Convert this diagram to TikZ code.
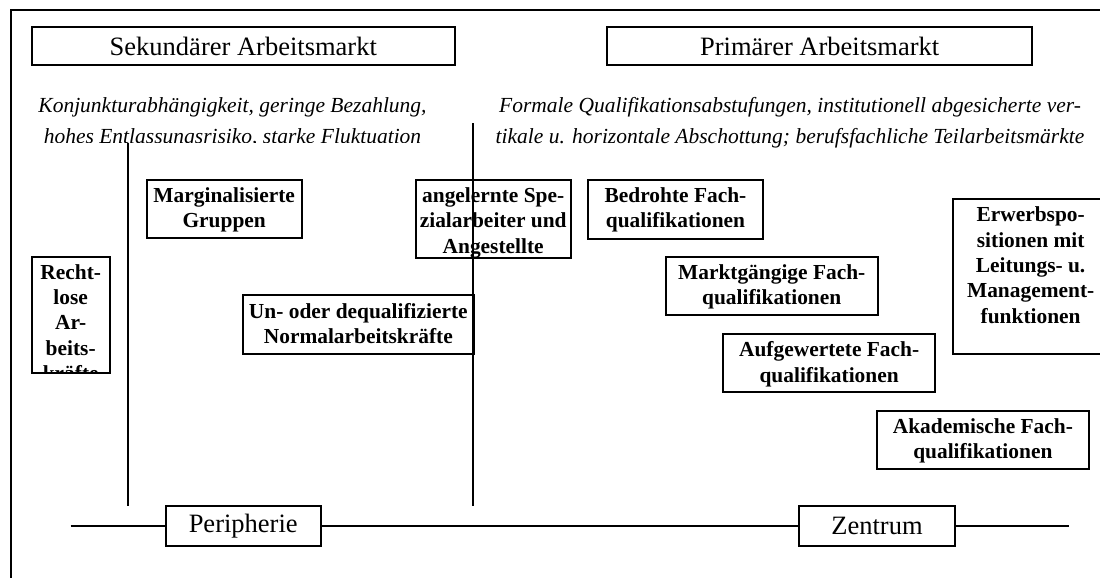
\documentclass[tikz,border=0pt]{standalone}
\usepackage{fontspec}
\setmainfont{Liberation Serif}
\usepackage{tikz}
\usetikzlibrary{positioning}

\begin{document}
\begin{tikzpicture}[
  x=1pt,y=-1pt,
  linie/.style={line width=2.2pt},
  kopfbox/.style={draw, line width=2.1pt, outer sep=0pt, inner sep=0pt,
    font=\fontsize{26.5}{30}\selectfont},
  fachbox/.style={draw, line width=2.1pt, outer sep=0pt, inner sep=0pt},
  fachtext/.style={align=center, inner sep=0pt,
    font=\fontsize{21.4}{25.3}\selectfont\bfseries},
  merkmal/.style={align=center, inner sep=0pt,
    font=\fontsize{21.5}{31.3}\selectfont\itshape}
]
\clip (0,0) rectangle (1100,578);

% Rahmen
\draw[linie] (11,578) -- (11,10) -- (1100,10);

% Kopfzeilen
\node[kopfbox, minimum width=423.3pt, minimum height=38.6pt] (sek) at (243.3,46) {Sekundärer Arbeitsmarkt};
\node[kopfbox, minimum width=424.7pt, minimum height=38.6pt] (prim) at (819.7,46) {Primärer Arbeitsmarkt};

% Merkmale
\begin{scope}
  \clip (0,0) rectangle (460,142.7);
  \node[merkmal, anchor=north] (sekMerk) at (232.5,97)
    {Konjunkturabhängigkeit, geringe Bezahlung,\\hohes Entlassungsrisiko, starke Fluktuation};
\end{scope}
\node[merkmal, anchor=north] (primMerk) at (790,97)
  {Formale Qualifikationsabstufungen, institutionell abgesicherte ver-\\tikale u. horizontale Abschottung; berufsfachliche Teilarbeitsmärkte};

% Segmente
\node[fachbox, minimum width=78pt, minimum height=116.3pt] (recht) at (70.7,314.85) {};
\begin{scope}
  \clip (recht.south west) rectangle (recht.north east);
  \node[fachtext, anchor=north] (rechtT) at ([yshift=-7.5pt]recht.north) {Recht-\\lose\\Ar-\\beits-\\kräfte};
\end{scope}

\node[fachbox, minimum width=155pt, minimum height=58.3pt] (marg) at (224.2,209.15) {};
\node[fachtext, anchor=north] (margT) at ([yshift=-7.5pt]marg.north) {Marginalisierte\\Gruppen};

\node[fachbox, minimum width=231.3pt, minimum height=58.4pt] (unoder) at (358.35,324.5) {};
\node[fachtext, anchor=north] (unoderT) at ([yshift=-7.5pt]unoder.north) {Un- oder dequalifizierte\\Normalarbeitskräfte};

\node[fachbox, minimum width=155pt, minimum height=77.7pt] (angel) at (493.2,218.85) {};
\node[fachtext, anchor=north] (angelT) at ([yshift=-7.5pt]angel.north) {angelernte Spe-\\zialarbeiter und\\Angestellte};

\node[fachbox, minimum width=174.4pt, minimum height=59pt] (bedroht) at (675.5,209.5) {};
\node[fachtext, anchor=north] (bedrohtT) at ([yshift=-7.5pt]bedroht.north) {Bedrohte Fach-\\qualifikationen};

\node[fachbox, minimum width=212pt, minimum height=58.6pt] (markt) at (771.7,286) {};
\node[fachtext, anchor=north] (marktT) at ([yshift=-7.5pt]markt.north) {Marktgängige Fach-\\qualifikationen};

\node[fachbox, minimum width=211.7pt, minimum height=58.3pt] (aufge) at (829.15,363.15) {};
\node[fachtext, anchor=north] (aufgeT) at ([yshift=-7.5pt]aufge.north) {Aufgewertete Fach-\\qualifikationen};

\node[fachbox, minimum width=212.3pt, minimum height=58.3pt] (akad) at (982.85,439.85) {};
\node[fachtext, anchor=north] (akadT) at ([yshift=-7.5pt]akad.north) {Akademische Fach-\\qualifikationen};

\node[fachbox, minimum width=154.7pt, minimum height=154.4pt] (erwerb) at (1030.65,276.5) {};
\node[fachtext, anchor=north] (erwerbT) at ([yshift=-7.5pt]erwerb.north) {Erwerbspo-\\sitionen mit\\Leitungs- u.\\Management-\\funktionen};

% Trennlinien
\coordinate (grenze1o) at (127.7,143.3);
\coordinate (grenze1u) at (127.7,506.3);
\coordinate (grenze2o) at (473.3,123.3);
\coordinate (grenze2u) at (473.3,506.3);
\draw[linie] (grenze1o) -- (grenze1u);
\draw[linie] (grenze2o) -- (grenze2u);

% Achse
\node[kopfbox, minimum width=155pt, minimum height=39.4pt] (peri) at (243.2,526) {Peripherie};
\node[kopfbox, minimum width=155.4pt, minimum height=39.4pt] (zent) at (877,526) {Zentrum};
\coordinate (achseL) at (70.7,526);
\coordinate (achseR) at (1069.3,526);
\draw[linie] (achseL) -- (peri) -- (zent) -- (achseR);
\end{tikzpicture}
\end{document}
